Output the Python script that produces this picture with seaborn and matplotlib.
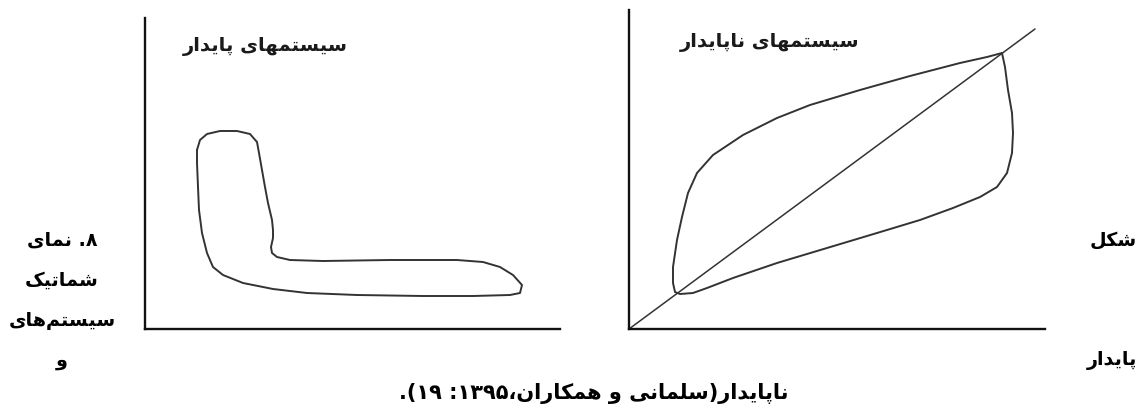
import matplotlib
matplotlib.use("Agg")
import matplotlib.pyplot as plt
import seaborn as sns

# outline of the stable system loop (left panel), axis units
stable_x = [52, 55, 62, 75, 92, 105, 112, 114, 117, 120, 123, 127, 128, 128, 126, 127,
            132, 145, 178, 245, 312, 338, 355, 368, 377, 375, 365, 328, 278, 212, 162,
            128, 98, 78, 68, 62, 57, 54, 53, 52, 52]
stable_y = [179, 189, 195, 198, 198, 195, 187, 176, 159, 142, 126, 109, 99, 91, 82, 76,
            72, 69, 68, 69, 69, 67, 62, 54, 44, 36, 34, 33, 33, 34, 36,
            40, 46, 54, 62, 76, 96, 119, 142, 166, 179]

# outline of the unstable system loop (right panel)
unstable_x = [373, 376, 379, 383, 384, 383, 378, 368, 351, 324, 291, 248, 198, 148, 104,
              78, 64, 51, 46, 44, 44, 48, 53, 59, 68, 84, 114, 148, 181, 231, 281, 331,
              358, 373]
unstable_y = [276, 262, 239, 216, 196, 176, 156, 142, 132, 121, 109, 96, 81, 66, 51,
              41, 36, 35, 37, 46, 62, 89, 112, 136, 156, 174, 194, 211, 224, 239, 253, 266,
              272, 276]

# equilibrium diagonal
diag_x = [0, 406]
diag_y = [0, 300]

title_left = "سیستمهای پایدار"
title_right = "سیستمهای ناپایدار"
caption_left = ["۸. نمای", "شماتیک", "سیستم‌های", "و"]
caption_right = ["شکل", "پایدار"]
caption_bottom = "ناپایدار(سلمانی و همکاران،۱۳۹۵: ۱۹)."

# --- tiny arabic shaper (no arabic_reshaper available offline) ---
FORMS = {
    'ا': ('\uFE8D', '\uFE8E', None, None),
    'د': ('\uFEA9', '\uFEAA', None, None),
    'ر': ('\uFEAD', '\uFEAE', None, None),
    'و': ('\uFEED', '\uFEEE', None, None),
    'پ': ('\uFB56', '\uFB57', '\uFB58', '\uFB59'),
    'ت': ('\uFE95', '\uFE96', '\uFE97', '\uFE98'),
    'س': ('\uFEB1', '\uFEB2', '\uFEB3', '\uFEB4'),
    'ش': ('\uFEB5', '\uFEB6', '\uFEB7', '\uFEB8'),
    'ک': ('\uFB8E', '\uFB8F', '\uFB90', '\uFB91'),
    'ل': ('\uFEDD', '\uFEDE', '\uFEDF', '\uFEE0'),
    'م': ('\uFEE1', '\uFEE2', '\uFEE3', '\uFEE4'),
    'ن': ('\uFEE5', '\uFEE6', '\uFEE7', '\uFEE8'),
    'ه': ('\uFEE9', '\uFEEA', '\uFEEB', '\uFEEC'),
    'ی': ('\uFBFC', '\uFBFD', '\uFBFE', '\uFBFF'),
}
MIRROR = {'(': ')', ')': '('}


def shape(text):
    out = []
    for i, ch in enumerate(text):
        if ch not in FORMS:
            if ch != '\u200c':
                out.append(ch)
            continue
        prev = text[i - 1] if i > 0 else ''
        nxt = text[i + 1] if i + 1 < len(text) else ''
        j_prev = prev in FORMS and FORMS[prev][2] is not None
        j_next = FORMS[ch][2] is not None and nxt in FORMS
        iso, fin, ini, med = FORMS[ch]
        if j_prev and j_next:
            out.append(med)
        elif j_prev:
            out.append(fin)
        elif j_next:
            out.append(ini)
        else:
            out.append(iso)
    return ''.join(out)


def rtl(text):
    s = shape(text)[::-1]
    res, run = [], ''
    for ch in s:
        if '\u06F0' <= ch <= '\u06F9':
            run += ch
            continue
        if run:
            res.append(run[::-1])
            run = ''
        res.append(MIRROR.get(ch, ch))
    if run:
        res.append(run[::-1])
    return ''.join(res)


sns.set_style("white")
plt.rcParams['font.family'] = ['DejaVu Sans']

W, H = 1141, 408
fig = plt.figure(figsize=(W / 100, H / 100), dpi=100)

def make_ax(x0, y0, x1, y1):
    ax = fig.add_axes([x0 / W, 1 - y0 / H, (x1 - x0) / W, (y0 - y1) / H])
    ax.set_xlim(0, x1 - x0)
    ax.set_ylim(0, y0 - y1)
    sns.despine(ax=ax)
    for sp in ("left", "bottom"):
        ax.spines[sp].set_linewidth(1.7)
        ax.spines[sp].set_color("#111111")
    ax.set_xticks([])
    ax.set_yticks([])
    return ax

ax1 = make_ax(145, 329, 560, 18)
ax2 = make_ax(629, 329, 1045, 10)

line_kw = dict(sort=False, estimator=None, color="#333333", linewidth=1.4)
sns.lineplot(x=stable_x, y=stable_y, ax=ax1, **line_kw)
sns.lineplot(x=unstable_x, y=unstable_y, ax=ax2, **line_kw)
sns.lineplot(x=diag_x, y=diag_y, ax=ax2, sort=False, estimator=None,
             color="#333333", linewidth=1.1)
for ax in (ax1, ax2):
    ax.set_xlabel("")
    ax.set_ylabel("")
    for ln in ax.lines:
        ln.set_solid_joinstyle("round")
        ln.set_clip_on(False)

fig.text(265 / W, 1 - 47 / H, rtl(title_left), ha="center", va="center",
         fontsize=14, fontweight="bold", color="#1a1a1a")
fig.text(770 / W, 1 - 42 / H, rtl(title_right), ha="center", va="center",
         fontsize=14, fontweight="bold", color="#1a1a1a")

side_kw = dict(va="center", fontsize=13.8, fontweight="bold", color="black")
for i, t in enumerate(caption_left):
    fig.text(62 / W, 1 - (240 + 40 * i) / H, rtl(t), ha="center", **side_kw)
fig.text(1137 / W, 1 - 240 / H, rtl(caption_right[0]), ha="right", **side_kw)
fig.text(1137 / W, 1 - 360 / H, rtl(caption_right[1]), ha="right", **side_kw)
fig.text(594 / W, 1 - 394 / H, rtl(caption_bottom), ha="center", va="center",
         fontsize=15, fontweight="bold", color="black")

fig.savefig("out.png", dpi=100)
